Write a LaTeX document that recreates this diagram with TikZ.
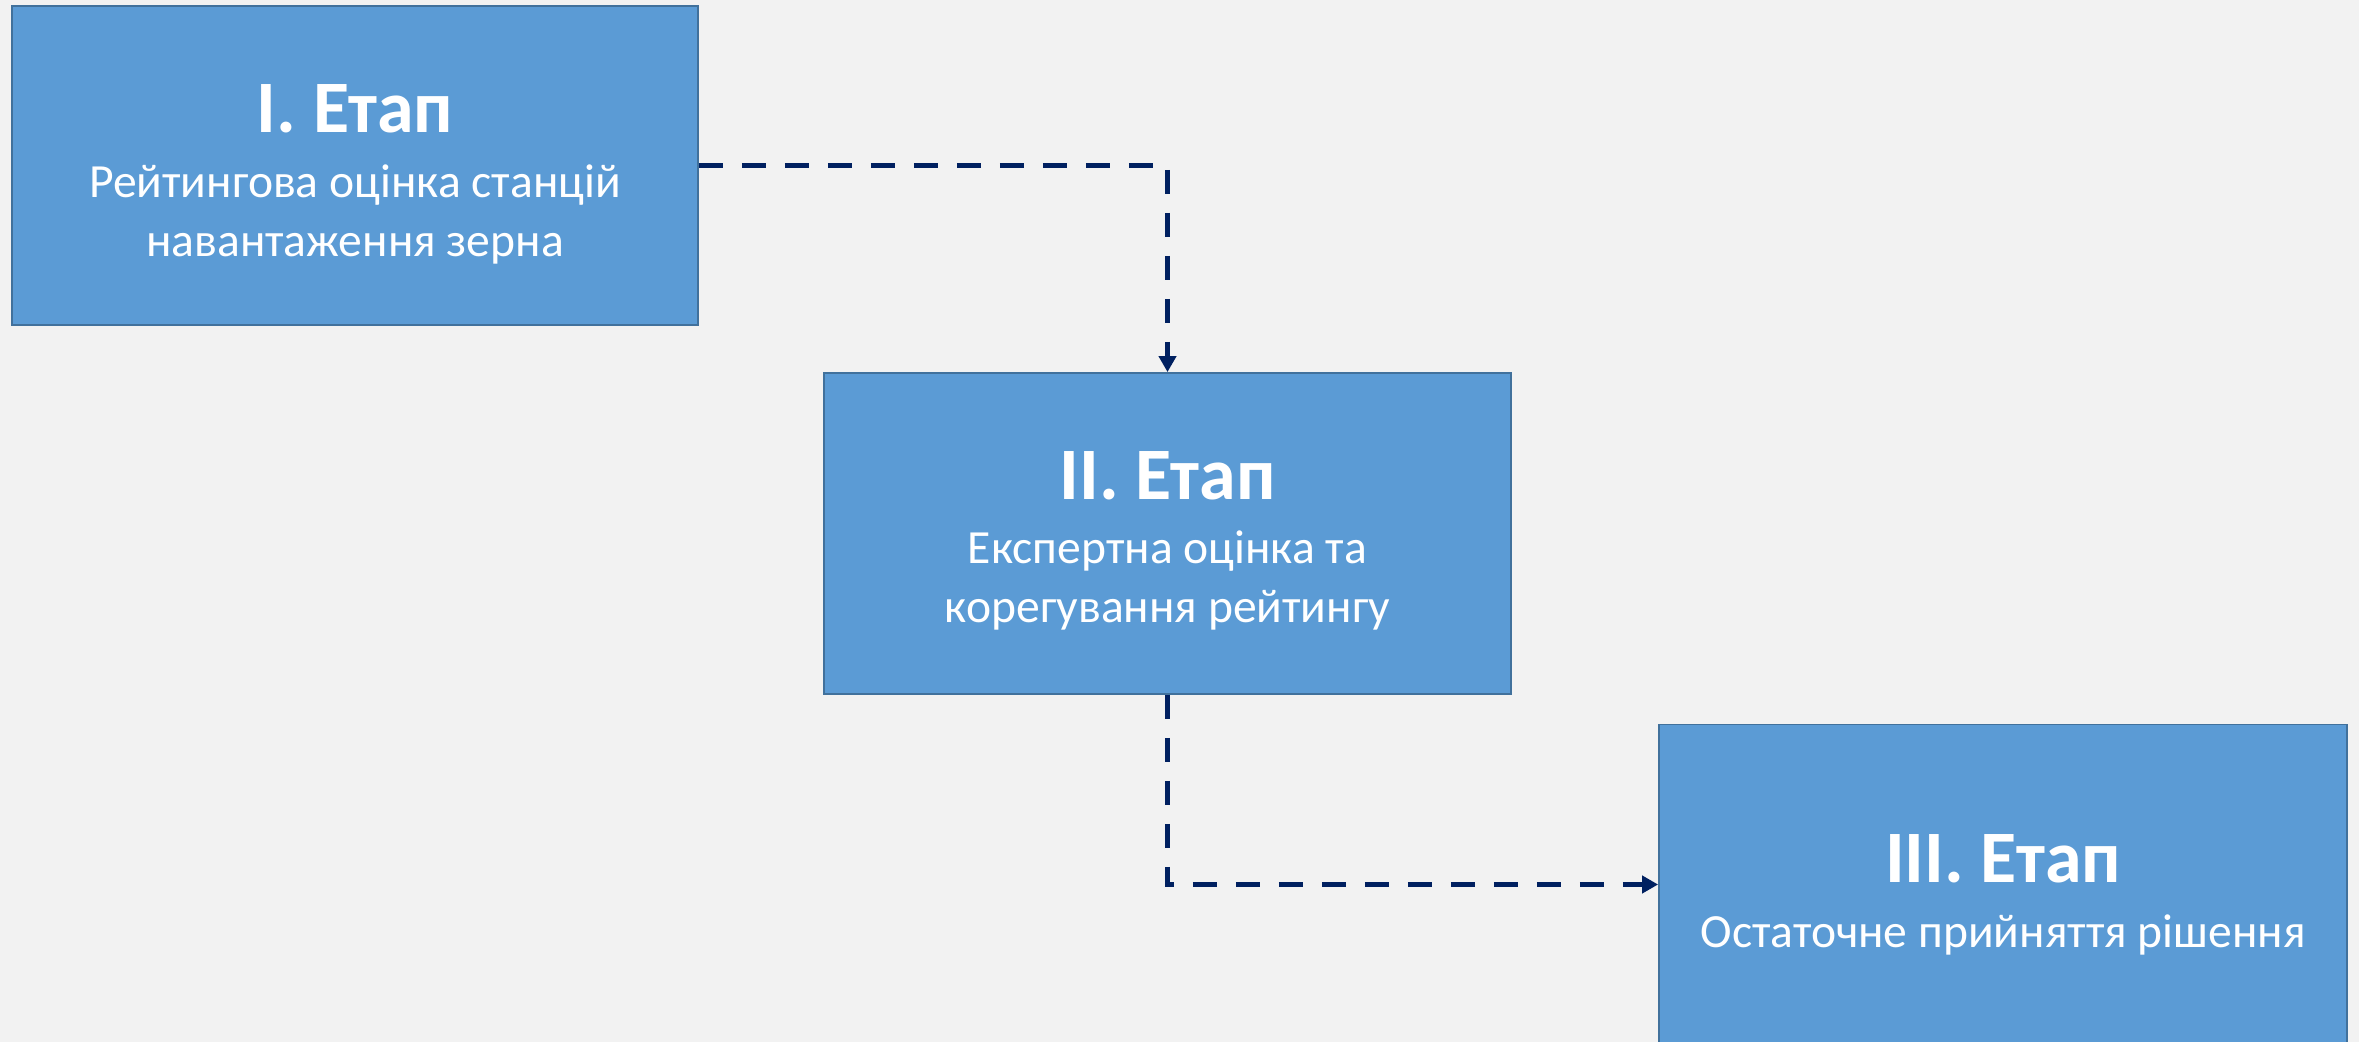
\documentclass[tikz,border=0pt]{standalone}
\usepackage{fontspec}
\setmainfont{Carlito}
\usetikzlibrary{arrows.meta}
\definecolor{bgc}{HTML}{F2F2F2}
\definecolor{boxfill}{HTML}{5B9BD5}
\definecolor{boxline}{HTML}{41719C}
\definecolor{arrc}{HTML}{002060}
\tikzset{
  stagebox/.style={draw=boxline, line width=0.9pt, fill=boxfill, rectangle, inner sep=0pt},
  ttl/.style={text=white, font=\fontsize{37}{44}\selectfont\bfseries, anchor=base, inner sep=0pt},
  sub/.style={text=white, font=\fontsize{23.8}{29}\selectfont, anchor=base, inner sep=0pt},
  conn/.style={draw=arrc, line width=2.35pt, dash pattern=on 12pt off 9.5pt,
    -{Triangle[width=8.5pt,length=8pt]}}
}
\begin{document}
\begin{tikzpicture}[x=0.5pt,y=-0.5pt]
\useasboundingbox (0,0) rectangle (2359,1042);
\clip (0,0) rectangle (2359,1042);
\fill[bgc] (0,0) rectangle (2359,1042);
\node[stagebox, minimum width=343pt, minimum height=159.5pt] (b1) at (355,165.5) {};
\node[stagebox, minimum width=343.5pt, minimum height=160.5pt] (b2) at (1167.5,533.5) {};
\node[stagebox, minimum width=344pt, minimum height=160pt] (b3) at (2003,884.5) {};
\node[ttl] (t1) at (355,133) {I. Етап};
\node[sub] (s1a) at (355,198) {Рейтингова оцінка станцій};
\node[sub] (s1b) at (355,257) {навантаження зерна};
\node[ttl] (t2) at (1167.5,500) {II. Етап};
\node[sub] (s2a) at (1167.5,563) {Експертна оцінка та};
\node[sub] (s2b) at (1167.5,622) {корегування рейтингу};
\node[ttl] (t3) at (2003,882) {III. Етап};
\node[sub] (s3a) at (2003,947) {Остаточне прийняття рішення};
\draw[conn] (b1.east) -| (b2.north);
\draw[conn] (b2.south) |- (b3.west);
\end{tikzpicture}
\end{document}
